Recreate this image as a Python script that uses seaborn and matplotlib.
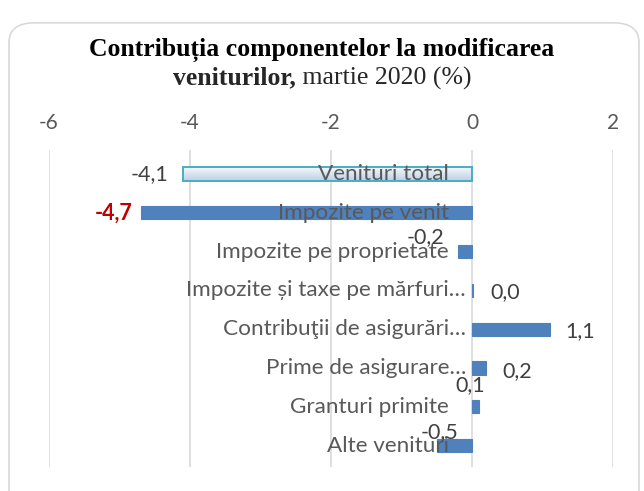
# Contribution of components to revenue change, horizontal bar chart
import matplotlib
import numpy as np
import seaborn as sns
from matplotlib.patches import FancyBboxPatch

matplotlib.use("Agg")
import matplotlib.pyplot as plt

categories = [
    "Venituri total",
    "Impozite pe venit",
    "Impozite pe proprietate",
    "Impozite și taxe pe mărfuri…",
    "Contribuţii de asigurări…",
    "Prime de asigurare…",
    "Granturi primite",
    "Alte venituri",
]
values = [-4.1, -4.7, -0.2, 0.02, 1.1, 0.2, 0.1, -0.5]
x_ticks = [-6, -4, -2, 0, 2]

# label placement (offset in pixels, alignment) -- mimics the Excel layout
label_offsets = [(-15, 0, "right"), (-8, 0, "right"), (-14, 15, "right"),
                 (17, -2, "left"), (16, -2, "left"), (16, -3, "left"),
                 (-9, 22, "center"), (3, 14, "center")]

sns.set_style("white")
plt.rcParams["font.family"] = ["Lato", "DejaVu Sans"]
plt.rcParams["axes.unicode_minus"] = False

fig = plt.figure(figsize=(6.44, 4.91), dpi=100)
ax = fig.add_axes([49 / 644, 1 - 467 / 491, 564 / 644, 317 / 491])

bar_blue = "#4f81bd"
sns.barplot(x=values, y=categories, hue=categories, orient="h",
            palette=[bar_blue] * len(categories), legend=False,
            width=0.34, ax=ax, saturation=1, zorder=2)

# gradient fill for the total bar
total = ax.patches[0]
total.set_facecolor("none")
total.set_edgecolor("#4bacc6")
total.set_linewidth(1.4)
bx, by = total.get_x(), total.get_y()
bw, bh = total.get_width(), total.get_height()
grad = np.linspace(0, 1, 50).reshape(-1, 1)
cmap = matplotlib.colors.LinearSegmentedColormap.from_list(
    "g", ["#f5f8fc", "#bcd0e6"])
im = ax.imshow(grad, cmap=cmap, aspect="auto", zorder=1.9,
               extent=[bx, bx + bw, by + bh, by])
im.set_clip_path(total)
for p in ax.patches[1:]:
    p.set_edgecolor(bar_blue)
    p.set_linewidth(0.8)

ax.set_xlim(-6, 2)
ax.set_ylim(7.55, -0.62)
ax.set_xticks(x_ticks)
ax.xaxis.tick_top()
ax.tick_params(axis="x", length=0, labelsize=15, labelcolor="#595959", pad=12)
ax.set_axisbelow(True)
ax.grid(axis="x", color="#d9d9d9", linewidth=1.2)
for s in ax.spines.values():
    s.set_visible(False)
ax.set_yticks([])
ax.set_xlabel("")
ax.set_ylabel("")

# category names sit at the zero line, drawn over the bars
for i, name in enumerate(categories):
    pad = -6 if name.endswith("…") else -23
    ax.annotate(name, (0, i), xytext=(pad, 0), textcoords="offset pixels",
                ha="right", va="center", fontsize=16.2, color="#595959",
                zorder=5)

for i, (v, (dx, dy, ha)) in enumerate(zip(values, label_offsets)):
    txt = f"{v:.1f}".replace(".", ",").replace("-0,0", "0,0")
    bold = i == 1
    ax.annotate(txt, (v, i), xytext=(dx, dy), textcoords="offset pixels",
                ha=ha, va="center", fontsize=15.5,
                color="#c00000" if bold else "#404040",
                fontweight="bold" if bold else "normal", zorder=5)

# rounded chart border
fig.patches.append(FancyBboxPatch((9 / 644, -0.1), 630 / 644, 1.08 - 13 / 491,
                                  boxstyle="round,pad=0,rounding_size=0.04",
                                  transform=fig.transFigure, facecolor="none",
                                  edgecolor="#d9d9d9", linewidth=1.2))

# two-line title, second line mixes bold and regular
serif = ["Liberation Serif", "DejaVu Serif"]
fig.text(0.5, 1 - 50 / 491, "Contribuția componentelor la modificarea",
         ha="center", va="center", fontsize=18.5, fontweight="bold",
         family=serif, color="#000000")
t1 = fig.text(0.5, 1 - 78 / 491, "veniturilor,", ha="left", va="center",
              fontsize=18.5, fontweight="bold", family=serif)
t2 = fig.text(0.5, 1 - 78 / 491, " martie 2020 (%)", ha="left", va="center",
              fontsize=18.5, family=serif)
r = fig.canvas.get_renderer()
w1 = t1.get_window_extent(r).width / fig.bbox.width
w2 = t2.get_window_extent(r).width / fig.bbox.width
start = 0.5 - (w1 + w2) / 2
t1.set_x(start)
t2.set_x(start + w1)

fig.savefig("out.png", dpi=100)
